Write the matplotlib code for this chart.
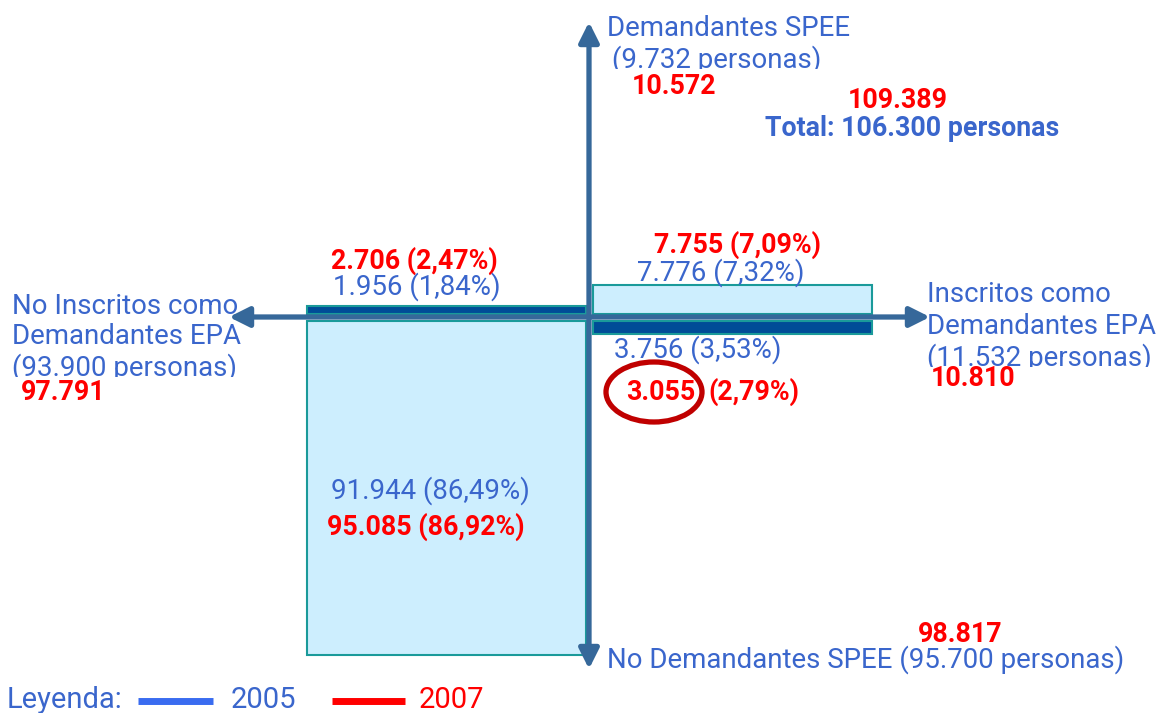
import matplotlib
matplotlib.use("Agg")
import matplotlib.pyplot as plt
from matplotlib.patches import FancyArrowPatch, Ellipse
from matplotlib.transforms import Bbox, TransformedBbox

plt.rcParams['font.family'] = ['Roboto', 'DejaVu Sans']

# quadrants: sup. dcha, sup. izda, inf. izda, inf. dcha
quad_2005 = [7776, 1956, 91944, 3756]
pct_2005 = ['7,32', '1,84', '86,49', '3,53']
quad_2007 = [7755, 2706, 95085, 3055]
pct_2007 = ['7,09', '2,47', '86,92', '2,79']

spee_2005, spee_2007 = 9732, 10572
no_spee_2005, no_spee_2007 = 95700, 98817
epa_2005, epa_2007 = 11532, 10810
no_epa_2005, no_epa_2007 = 93900, 97791
total_2005, total_2007 = 106300, 109389

W, H = 1163, 713
BLUE = '#3a66cc'
RED = '#ff0000'
AXC = '#36689a'
LIGHT = '#cdeefe'
DARK = '#004c97'
EDGE = '#1a9a9a'


def fmt(v):
    return f"{v:,}".replace(',', '.')


fig = plt.figure(figsize=(W / 100, H / 100), dpi=100)

# diagram axes: x in pixels, y in personas (0 = eje horizontal)
ox, oy = 589, 317
per_px = 275.0
ax = fig.add_axes([0, 0, 1, 1])
ax.set_xlim(0, W)
ax.set_ylim(-(H - oy) * per_px, oy * per_px)
ax.axis('off')

gap = 3.5 * per_px
bw = 279
xl, xr = ox - 3 - bw, ox + 4
ax.bar(xr, quad_2005[0], width=bw, bottom=gap, align='edge',
       color=LIGHT, edgecolor=EDGE, lw=1.5, zorder=2)
ax.bar(xl, quad_2005[1], width=bw, bottom=gap, align='edge',
       color=DARK, edgecolor=EDGE, lw=1.5, zorder=2)
ax.bar(xl, -quad_2005[2], width=bw, bottom=-gap, align='edge',
       color=LIGHT, edgecolor=EDGE, lw=1.5, zorder=2)
ax.bar(xr, -quad_2005[3], width=bw, bottom=-gap, align='edge',
       color=DARK, edgecolor=EDGE, lw=1.5, zorder=2)

# overlay in pixels for axes arrows and labels
ov = fig.add_axes([0, 0, 1, 1])
ov.set_xlim(0, W)
ov.set_ylim(H, 0)
ov.axis('off')
ov.patch.set_alpha(0)

style = '-|>,head_length=12,head_width=6'
for end in [(ox, 22), (ox, 669), (229, oy), (930, oy)]:
    ov.add_patch(FancyArrowPatch((ox, oy), end, arrowstyle=style, mutation_scale=1,
                                 color=AXC, lw=3.8, shrinkA=0, shrinkB=0, zorder=3))


def T(x, y, s, c=BLUE, bold=False, size=None, clip_y=None):
    if size is None:
        size = 19.3 if bold else 19.9
    t = ov.text(x, y, s, color=c, fontsize=size, fontweight='bold' if bold else 'normal',
                ha='left', va='center', zorder=5)
    if clip_y is not None:
        t.set_clip_on(True)
        t.set_clip_box(TransformedBbox(Bbox([[0, clip_y - 40], [W, clip_y]]), ov.transData))
    return t


# ejes
T(607, 28, 'Demandantes SPEE')
T(612, 60, f'({fmt(spee_2005)} personas)', clip_y=69)
T(632, 87, fmt(spee_2007), RED, True)
T(848, 101, fmt(total_2007), RED, True)
T(765, 128, f'Total: {fmt(total_2005)} personas', BLUE, True)

T(927, 295, 'Inscritos como')
T(927, 327, 'Demandantes EPA')
T(927, 358, f'({fmt(epa_2005)} personas)', clip_y=367)
T(931, 379, fmt(epa_2007), RED, True)

T(12, 306, 'No Inscritos como')
T(12, 337, 'Demandantes EPA')
T(12, 368, f'({fmt(no_epa_2005)} personas)', clip_y=377)
T(21, 393, fmt(no_epa_2007), RED, True)

T(918, 634, fmt(no_spee_2007), RED, True)
T(607, 660, f'No Demandantes SPEE ({fmt(no_spee_2005)} personas)')

# cuadrantes
T(654, 245, f'{fmt(quad_2007[0])} ({pct_2007[0]}%)', RED, True)
T(637, 273, f'{fmt(quad_2005[0])} ({pct_2005[0]}%)')
T(331, 261, f'{fmt(quad_2007[1])} ({pct_2007[1]}%)', RED, True)
T(333, 287, f'{fmt(quad_2005[1])} ({pct_2005[1]}%)')
T(331, 491, f'{fmt(quad_2005[2])} ({pct_2005[2]}%)')
T(327, 527, f'{fmt(quad_2007[2])} ({pct_2007[2]}%)', RED, True)
T(614, 350, f'{fmt(quad_2005[3])} ({pct_2005[3]}%)')
T(626, 392, fmt(quad_2007[3]), RED, True)
T(708, 392, f'({pct_2007[3]}%)', RED, True)
ov.add_patch(Ellipse((654, 392), 96, 60, fill=False, edgecolor='#c00000', lw=3.8, zorder=6))

# leyenda
T(7, 700, 'Leyenda:', size=21, clip_y=713)
ov.plot([138, 213], [701, 701], color='#3a6cf0', lw=5, solid_capstyle='butt')
T(231, 700, '2005', size=21)
ov.plot([332, 405], [701, 701], color=RED, lw=5, solid_capstyle='butt')
T(419, 700, '2007', RED, size=21)

fig.savefig('out.png', dpi=100)
